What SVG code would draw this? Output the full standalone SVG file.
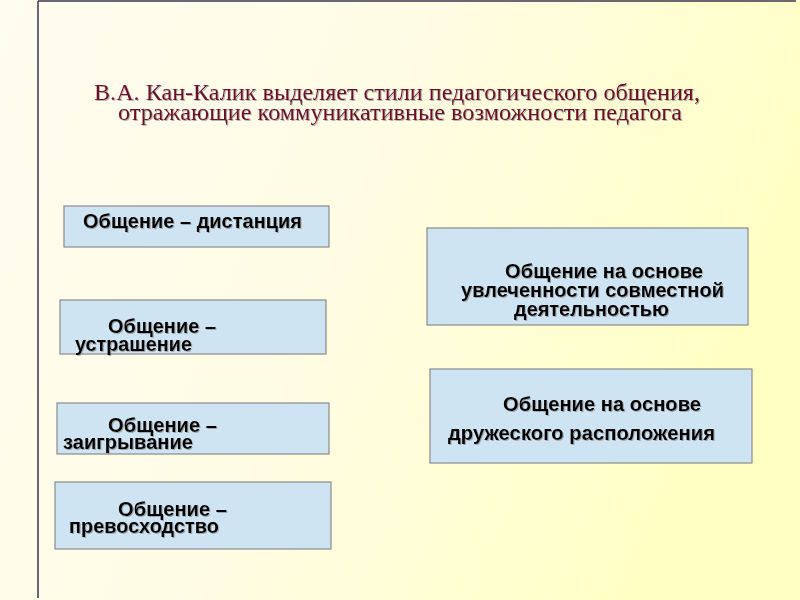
<svg xmlns="http://www.w3.org/2000/svg" width="800" height="600" viewBox="0 0 800 600">
<defs>
<linearGradient id="bg" x1="0" y1="0" x2="1" y2="0.3">
<stop offset="0" stop-color="#fffcf0"/>
<stop offset="0.5" stop-color="#fffce4"/>
<stop offset="1" stop-color="#ffffc4"/>
</linearGradient>
<filter id="sh" x="-5%" y="-20%" width="110%" height="140%">
<feDropShadow dx="1" dy="1" stdDeviation="0.6" flood-color="#808080" flood-opacity="0.6"/>
</filter>
</defs>
<style>
.box{fill:#cfe4f3;stroke:#8a8a8a;stroke-width:1.2}
.t{font-family:"Liberation Sans",Arial,sans-serif;font-weight:bold;font-size:20px;fill:#000}
.title{font-family:"Liberation Serif","Times New Roman",serif;font-size:23px;fill:#6e0a2c}
</style>
<rect width="800" height="600" fill="url(#bg)"/>
<g id="frame" stroke="#3a3550" stroke-width="1.5" fill="none">
<line x1="38" y1="1" x2="796" y2="1"/>
<line x1="38" y1="1" x2="38" y2="598"/>
</g>
<g id="title" filter="url(#sh)">
<text class="title" x="94" y="100" textLength="606" lengthAdjust="spacingAndGlyphs">В.А. Кан-Калик выделяет стили педагогического общения,</text>
<text class="title" x="118" y="120" textLength="564" lengthAdjust="spacingAndGlyphs">отражающие коммуникативные возможности педагога</text>
</g>
<g id="n1">
<rect class="box" x="64" y="206" width="265" height="41"/>
<text class="t" x="83" y="228" textLength="219" lengthAdjust="spacingAndGlyphs" filter="url(#sh)">Общение – дистанция</text>
</g>
<g id="n2">
<rect class="box" x="60" y="300" width="266" height="54"/>
<text class="t" filter="url(#sh)"><tspan x="108" y="333" textLength="108" lengthAdjust="spacingAndGlyphs">Общение –</tspan><tspan x="75" y="351" textLength="117" lengthAdjust="spacingAndGlyphs">устрашение</tspan></text>
</g>
<g id="n3">
<rect class="box" x="57" y="403" width="272" height="51"/>
<text class="t" filter="url(#sh)"><tspan x="108" y="432" textLength="109" lengthAdjust="spacingAndGlyphs">Общение –</tspan><tspan x="63" y="449" textLength="130" lengthAdjust="spacingAndGlyphs">заигрывание</tspan></text>
</g>
<g id="n4">
<rect class="box" x="55" y="482" width="276" height="67"/>
<text class="t" filter="url(#sh)"><tspan x="118" y="516" textLength="109" lengthAdjust="spacingAndGlyphs">Общение –</tspan><tspan x="69" y="533" textLength="150" lengthAdjust="spacingAndGlyphs">превосходство</tspan></text>
</g>
<g id="n5">
<rect class="box" x="427" y="228" width="321" height="97"/>
<text class="t" filter="url(#sh)"><tspan x="505" y="278" textLength="198" lengthAdjust="spacingAndGlyphs">Общение на основе</tspan><tspan x="461" y="297" textLength="263" lengthAdjust="spacingAndGlyphs">увлеченности совместной</tspan><tspan x="514" y="316" textLength="155" lengthAdjust="spacingAndGlyphs">деятельностью</tspan></text>
</g>
<g id="n6">
<rect class="box" x="430" y="369" width="322" height="94"/>
<text class="t" filter="url(#sh)"><tspan x="503" y="411" textLength="198" lengthAdjust="spacingAndGlyphs">Общение на основе</tspan><tspan x="448" y="440" textLength="267" lengthAdjust="spacingAndGlyphs">дружеского расположения</tspan></text>
</g>
<g id="connectors"/>
</svg>
